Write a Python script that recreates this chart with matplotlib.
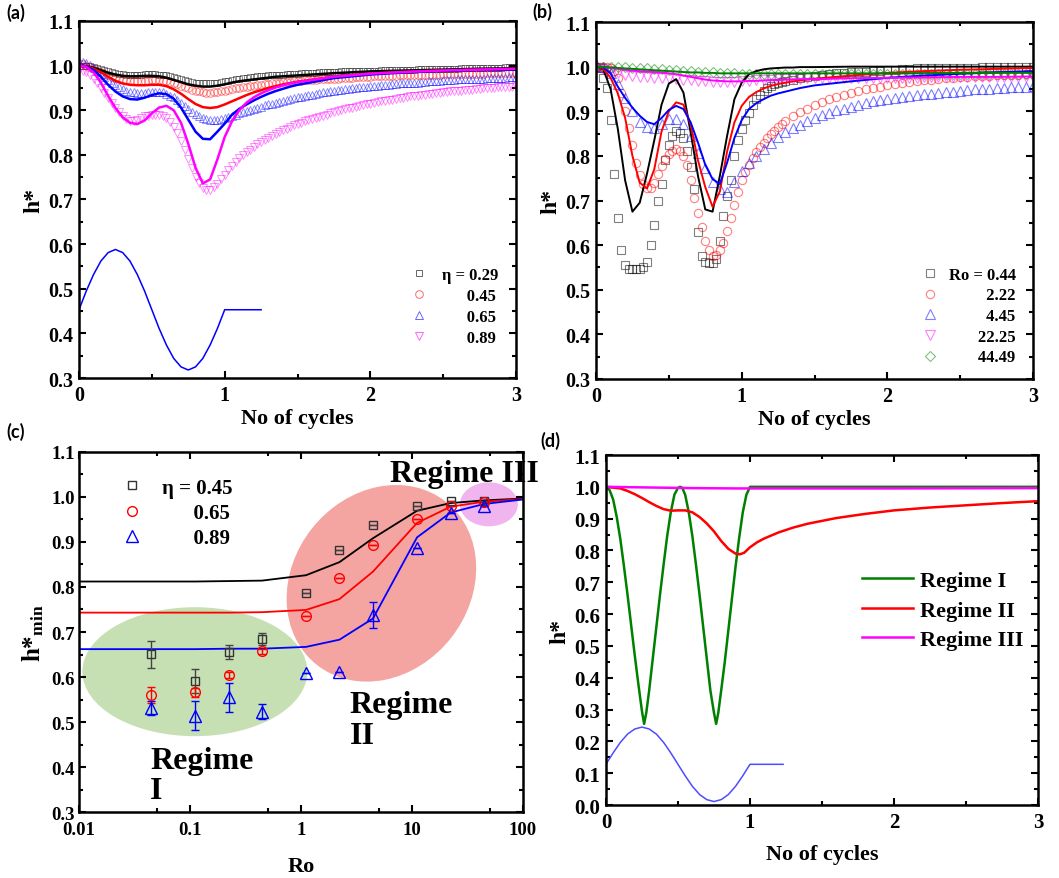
import numpy as np
import matplotlib
matplotlib.use('Agg')
import matplotlib.pyplot as plt
from matplotlib.patches import Ellipse
from matplotlib.transforms import ScaledTranslation
from matplotlib.ticker import MultipleLocator, FixedLocator, NullFormatter

plt.rcParams['font.family'] = ['Liberation Serif', 'DejaVu Serif']
plt.rcParams['font.weight'] = 'bold'
plt.rcParams['axes.labelweight'] = 'bold'
plt.rcParams['mathtext.fontset'] = 'custom'
plt.rcParams['mathtext.rm'] = 'Liberation Serif:bold'
plt.rcParams['mathtext.bf'] = 'Liberation Serif:bold'
plt.rcParams['mathtext.it'] = 'Liberation Serif:bold:italic'

# ---------------- (a) effect of eta ----------------
xa_pts = np.round(np.arange(0, 3.001, 0.025), 3)
xa_line = np.r_[np.round(np.arange(0, 1.501, 0.05), 3), 1.75, 2.0, 2.25, 2.5, 2.75, 3.0]

a_sq = [1.0, 1.0, 1.0, .999, .997, .995, .993, .99, .988, .986,
        .984, .982, .981, .98, .98, .98, .98, .98, .981, .981,
        .981, .981, .98, .979, .978, .976, .974, .972, .97, .968,
        .966, .964, .962, .961, .96, .96, .96, .961, .962, .963,
        .965, .966, .968, .97, .971, .972, .973, .974, .975, .976,
        .977, .977, .978, .979, .979, .98, .98, .981, .981, .982,
        .982, .983, .983, .984, .984, .984, .985, .985, .985, .986,
        .986, .986, .987, .987, .987, .988, .988, .988, .988, .989,
        .989, .989, .989, .99, .99, .99, .99, .991, .991, .991,
        .991, .991, .991, .992, .992, .992, .992, .992, .992, .993,
        .993, .993, .993, .993, .993, .994, .994, .994, .994, .994,
        .994, .995, .995, .995, .995, .995, .995, .996, .996, .996,
        .996]
a_ci = [1.005, 1.003, 1.0, .997, .993, .989, .985, .981, .978, .975,
        .972, .97, .968, .967, .966, .965, .965, .965, .966, .966,
        .967, .967, .967, .966, .965, .963, .961, .958, .955, .952,
        .949, .946, .944, .942, .94, .939, .939, .94, .941, .942,
        .944, .945, .947, .949, .95, .952, .953, .954, .955, .956,
        .957, .958, .959, .96, .961, .962, .963, .963, .964, .965,
        .966, .966, .967, .967, .968, .968, .969, .969, .97, .97,
        .971, .971, .972, .972, .973, .973, .974, .974, .975, .975,
        .975, .976, .976, .976, .977, .977, .977, .977, .978, .978,
        .978, .978, .979, .979, .979, .979, .98, .98, .98, .98,
        .981, .981, .981, .981, .981, .981, .982, .982, .982, .982,
        .982, .982, .983, .983, .983, .983, .983, .983, .984, .984,
        .984]
a_tu = [1.007, 1.007, 1.005, 1.001, .995, .989, .982, .975, .968, .962,
        .956, .951, .947, .944, .941, .94, .939, .939, .939, .94,
        .941, .941, .941, .94, .937, .933, .929, .923, .917, .91,
        .903, .897, .891, .887, .883, .881, .879, .879, .879, .88,
        .882, .885, .887, .89, .893, .896, .898, .901, .903, .906,
        .908, .911, .913, .915, .917, .919, .921, .923, .925, .927,
        .929, .93, .932, .934, .935, .937, .938, .94, .941, .942,
        .943, .945, .946, .947, .948, .949, .95, .951, .952, .953,
        .954, .954, .955, .956, .957, .957, .958, .959, .96, .96,
        .961, .961, .962, .962, .963, .964, .965, .965, .966, .966,
        .967, .967, .968, .968, .969, .969, .97, .97, .97, .97,
        .971, .971, .972, .972, .973, .973, .973, .973, .974, .974,
        .975]
a_td = [.99, .988, .985, .978, .97, .96, .95, .939, .928, .916,
        .905, .895, .887, .881, .877, .876, .878, .882, .886, .888,
        .89, .89, .889, .886, .882, .874, .862, .848, .832, .812,
        .79, .77, .75, .736, .726, .722, .722, .727, .735, .745,
        .755, .765, .775, .784, .792, .799, .806, .812, .818, .824,
        .829, .834, .838, .843, .847, .851, .855, .859, .862, .866,
        .869, .872, .875, .878, .88, .883, .885, .888, .89, .893,
        .895, .898, .9, .902, .904, .906, .908, .91, .912, .914,
        .915, .917, .918, .92, .921, .923, .924, .926, .927, .928,
        .929, .931, .932, .933, .934, .935, .936, .937, .938, .939,
        .94, .941, .942, .943, .943, .944, .945, .946, .946, .947,
        .948, .949, .949, .95, .95, .951, .952, .952, .953, .953,
        .954]

a_l029 = [1.0, .999, .995, .99, .984, .98, .977, .976, .976, .977,
          .977, .976, .973, .968, .963, .958, .955, .953, .953, .955,
          .958, .962, .965, .967, .969, .971, .973, .975, .976, .977,
          .978, .983, .987, .989, .991, .993, .994]
a_l045 = [1.0, .999, .993, .985, .975, .966, .96, .957, .956, .956,
          .957, .957, .954, .947, .937, .925, .914, .907, .905, .907,
          .913, .92, .927, .934, .94, .945, .95, .954, .958, .961,
          .964, .975, .982, .986, .989, .991, .992]
a_l065 = [1.0, .998, .99, .975, .957, .942, .931, .925, .924, .928,
          .934, .938, .936, .926, .906, .879, .852, .836, .835, .852,
          .87, .89, .903, .913, .922, .93, .937, .943, .948, .953,
          .957, .972, .98, .985, .988, .99, .991]
a_l089 = [1.0, .997, .985, .962, .932, .905, .884, .872, .869, .877,
          .893, .906, .91, .9, .872, .825, .771, .736, .745, .79,
          .84, .875, .9, .917, .929, .938, .945, .951, .956, .96,
          .963, .975, .982, .986, .989, .991, .993]

wave_x = [0, .05, .1, .15, .2, .25, .3, .35, .4, .45, .5,
          .55, .6, .65, .7, .75, .8, .85, .9, .95, 1.0, 1.25]
a_wave = [.453, .495, .532, .562, .581, .588, .581, .562, .532, .495, .453,
          .411, .374, .344, .325, .318, .325, .344, .374, .411, .453, .453]

# ---------------- (b) effect of Ro ----------------
xb_fine = np.r_[np.round(np.arange(0, 1.3001, 0.025), 3), np.round(np.arange(1.35, 3.001, 0.05), 3)]
xb_pts = np.round(np.arange(0, 3.001, 0.05), 3)
xb_line = xa_line

b_sq = [1.0, .997, .975, .952, .88, .76, .66, .59, .555, .546,
        .546, .546, .546, .55, .562, .60, .645, .70, .736, .79,
        .825, .845, .856, .852, .84, .81, .775, .725, .63, .575,
        .562, .561, .561, .57, .61, .665, .71, .745, .80, .835,
        .86, .88, .897, .915, .927, .937, .945, .952, .957, .961,
        .964, .966, .968,
        .971, .974, .977, .979, .981, .983, .985, .986, .987, .988,
        .989, .99, .991, .992, .993, .994, .995, .996, .996, .997,
        .997, .997, .998, .998, .998, .998, .999, .999, .999, .999,
        .999, 1.0, 1.0, 1.0]
b_ci = [1.0, 1.0, 1.0, 1.0, .998, .99, .975, .94, .9, .862,
        .825, .785, .757, .738, .727, .728, .74, .76, .777, .792,
        .805, .812, .815, .812, .80, .78, .745, .705, .673, .64,
        .61, .588, .576, .578, .588, .605, .632, .66, .69, .72,
        .745, .765, .78, .795, .808, .82, .83, .84, .848, .856,
        .864, .871, .878,
        .889, .898, .906, .914, .921, .927, .932, .937, .941, .945,
        .949, .952, .955, .958, .961, .963, .966, .968, .97, .971,
        .973, .974, .975, .976, .977, .978, .979, .98, .981, .981,
        .982, .982, .983, .983]
b_tu = [1.005, 1.0, .985, .962, .93, .9, .877, .865, .862, .872,
        .882, .882, .872, .845, .806, .772, .742, .725, .72, .742,
        .767, .785, .8, .815, .829, .842, .853, .862, .87, .878,
        .885, .891, .897, .902, .906, .91, .914, .918, .922, .925,
        .928, .93, .932, .934, .936, .938, .939, .941, .943, .944,
        .946, .947, .949, .95, .951, .952, .953, .954, .955, .955,
        .956]
b_td = [.995, .994, .99, .986, .982, .979, .977, .976, .975, .975,
        .974, .973, .971, .969, .968, .967, .966, .966, .966, .966,
        .967, .968, .969, .97, .971, .972, .972, .973, .973, .974,
        .974, .975, .975, .975, .975, .975, .975, .975, .975, .975,
        .975, .975, .975, .975, .975, .976, .976, .976, .976, .976,
        .976, .976, .976, .976, .976, .977, .977, .977, .977, .977,
        .977]
b_di = [1.0, 1.0, 1.0, 1.0, .999, .998, .997, .996, .995, .994,
        .993, .992, .991, .99, .989, .988, .987, .986, .985, .985,
        .984, .984, .984, .984, .984, .984, .984, .984, .984, .984,
        .984, .984, .984, .984, .984, .984, .984, .984, .984, .984,
        .984, .984, .984, .984, .984, .984, .984, .984, .984, .984,
        .984, .984, .984, .984, .984, .984, .984, .984, .984, .984,
        .984]

b_l044 = [1.0, .994, .95, .86, .745, .675, .695, .76, .835, .915,
          .962, .972, .942, .852, .755, .68, .675, .755, .845, .927,
          .964, .983, .99, .994, .996, .997, .998, .998, .999, .999,
          .999, 1.0, 1.0, 1.0, 1.0, 1.0, 1.0]
b_l222 = [1.0, .995, .975, .94, .885, .80, .74, .727, .77, .855,
          .9, .92, .915, .87, .79, .73, .686, .72, .81, .875,
          .912, .932, .943, .951, .957, .961, .964, .967, .969, .971,
          .973, .98, .986, .99, .993, .995, .997]
b_l445 = [1.0, .998, .985, .955, .93, .908, .89, .876, .871, .885,
          .903, .912, .905, .875, .83, .78, .748, .737, .785, .84,
          .88, .905, .918, .927, .935, .94, .944, .948, .952, .955,
          .958, .967, .975, .98, .984, .987, .99]
b_l2225 = [1.0, .999, .997, .995, .993, .991, .99, .989, .988, .987,
           .985, .983, .98, .977, .974, .971, .969, .968, .967, .967,
           .967, .968, .968, .969, .97, .97, .971, .971, .972, .972,
           .972, .974, .975, .976, .977, .977, .978]
b_l4449 = [1.0, .999, .998, .997, .996, .995, .994, .993, .992, .991,
           .99, .989, .988, .987, .987, .986, .986, .985, .985, .985,
           .985, .985, .985, .985, .985, .985, .985, .985, .985, .985,
           .985, .985, .985, .985, .986, .986, .986]

# ---------------- (c) minimum h* vs Ro ----------------
ro = [0.0445, 0.111, 0.2225, 0.445, 1.11, 2.22, 4.45, 11.1, 22.25, 44.49]
c_h045 = [.651, .592, .656, .684, .787, .883, .938, .979, .991, .991]
c_e045 = [.03, .027, .016, .013, 0, 0, 0, 0, 0, 0]
c_h065 = [.561, .566, .605, .657, .736, .82, .892, .951, .979, .988]
c_e065 = [.018, .01, .006, .006, 0, 0, 0, 0, 0, 0]
c_h089 = [.531, .514, .555, .523, .608, .612, .738, .886, .965, .98]
c_e089 = [.015, .032, .032, .017, 0, 0, .028, 0, 0, 0]
ro_line = [0.01, 0.0445, 0.111, 0.2225, 0.445, 1.11, 2.22, 4.45, 11.1, 22.25, 44.49, 100]
c_l045 = [.812, .812, .812, .813, .814, .826, .855, .908, .969, .986, .992, .996]
c_l065 = [.743, .743, .743, .743, .744, .749, .773, .834, .942, .978, .989, .995]
c_l089 = [.662, .662, .662, .663, .663, .667, .683, .730, .910, .965, .984, .994]

# ---------------- (d) regimes ----------------
d1_x = [0, .025, .05, .075, .1, .125, .15, .175, .2, .225, .25, .265, .28, .3, .325,
        .35, .375, .4, .425, .45, .475, .5, .515, .53, .55, .575, .6, .625, .65,
        .675, .7, .725, .75, .765, .78, .8, .825, .85, .875, .9, .925, .95, .975,
        1.0, 3.0]
d1_y = [1.0, .99, .96, .905, .835, .75, .66, .565, .47, .38, .295, .255, .29, .36, .46,
        .56, .66, .755, .845, .92, .975, .997, 1.0, .997, .975, .92, .845, .755, .66,
        .56, .46, .36, .29, .255, .29, .36, .45, .55, .65, .75, .84, .92, .975,
        1.0, 1.0]
d2_x = [0, .1, .15, .2, .25, .3, .35, .4, .45, .5, .55, .6, .65, .7, .75, .8, .85, .9,
        .93, .96, 1.0, 1.05, 1.1, 1.2, 1.3, 1.4, 1.6, 1.8, 2.0, 2.25, 2.5, 2.75, 3.0]
d2_y = [1.0, .995, .987, .977, .965, .952, .94, .93, .925, .926, .926, .92, .905, .885,
        .86, .83, .805, .79, .788, .793, .81, .826, .838, .857, .872, .884, .902, .915,
        .926, .935, .942, .949, .955]
d3_x = [0, .3, .6, .9, 1.2, 2.0, 3.0]
d3_y = [1.0, .998, .996, .995, .995, .995, .996]
d_wave_x = [0, .05, .1, .15, .2, .25, .3, .35, .4, .45, .5,
            .55, .6, .65, .7, .75, .8, .85, .9, .95, 1.0, 1.23]
d_wave = [.128, .164, .197, .223, .239, .245, .239, .223, .197, .164, .128,
          .092, .059, .033, .017, .011, .017, .033, .059, .092, .128, .128]


fig = plt.figure(figsize=(10.59, 8.79), dpi=100)
ax_a = fig.add_axes([0.0746, 0.5688, 0.4127, 0.4062])
ax_b = fig.add_axes([0.5628, 0.5677, 0.4127, 0.4061])
ax_c = fig.add_axes([0.0746, 0.0747, 0.4193, 0.4103])
ax_d = fig.add_axes([0.5722, 0.0830, 0.4080, 0.3982])


def style(ax, size, xpad=5, ypad=4):
    for s in ax.spines.values():
        s.set_linewidth(1.8)
    ax.tick_params(which='both', direction='in', top=True, right=True, width=1.5)
    ax.tick_params(which='major', length=5, labelsize=size)
    ax.tick_params(which='minor', length=3)
    ax.tick_params(axis='x', pad=xpad)
    ax.tick_params(axis='y', pad=ypad)


mk = dict(ls='none', mfc='none', mew=0.8, alpha=0.5)
mk_a = dict(ls='none', mfc='none', mew=0.7, alpha=0.45)

# (a)
ax = ax_a
ax.plot(xa_pts, a_sq, marker='s', ms=5, mec='k', label='η = 0.29', **mk_a)
ax.plot(xa_pts, a_ci, marker='o', ms=5.5, mec='red', label='      0.45', **mk_a)
ax.plot(xa_pts, a_tu, marker='^', ms=6, mec='blue', label='      0.65', **mk_a)
ax.plot(xa_pts, a_td, marker='v', ms=6, mec='magenta', label='      0.89', **mk_a)
ax.plot(xa_line, a_l029, color='k', lw=1.8)
ax.plot(xa_line, a_l045, color='red', lw=1.8)
ax.plot(xa_line, a_l065, color='blue', lw=1.8)
ax.plot(xa_line, a_l089, color='magenta', lw=1.8)
ax.plot(wave_x, a_wave, color='blue', lw=1.1)
ax.set_xlim(0, 3)
ax.set_ylim(0.3, 1.1)
ax.xaxis.set_major_locator(MultipleLocator(1))
ax.xaxis.set_minor_locator(MultipleLocator(0.5))
ax.yaxis.set_major_locator(MultipleLocator(0.1))
ax.yaxis.set_minor_locator(MultipleLocator(0.05))
ax.set_xlabel('No of cycles', fontsize=16, labelpad=2)
ax.set_ylabel('h*', fontsize=17, labelpad=3)
style(ax, 14.5)
leg = ax.legend(loc='center left', bbox_to_anchor=(0.759, 0.201), frameon=False, fontsize=12,
                handlelength=1.0, handletextpad=0.85, labelspacing=0.31, borderpad=0, borderaxespad=0)
for h in leg.legend_handles:
    h.set_alpha(0.6)

# (b)
ax = ax_b
ax.plot(xb_fine, b_sq, marker='s', ms=5.5, mec='k', label='Ro = 0.44', **mk)
ax.plot(xb_fine, b_ci, marker='o', ms=6, mec='red', label='         2.22', **mk)
ax.plot(xb_pts, b_tu, marker='^', ms=6.5, mec='blue', label='         4.45', **mk)
ax.plot(xb_pts, b_td, marker='v', ms=6.5, mec='magenta', label='       22.25', **mk)
ax.plot(xb_pts, b_di, marker='D', ms=5, mec='green', label='       44.49', **mk)
ax.plot(xb_line, b_l044, color='k', lw=1.4)
ax.plot(xb_line, b_l222, color='red', lw=1.4)
ax.plot(xb_line, b_l445, color='blue', lw=1.4)
ax.plot(xb_line, b_l2225, color='magenta', lw=1.4)
ax.plot(xb_line, b_l4449, color='green', lw=1.4)
ax.set_xlim(0, 3)
ax.set_ylim(0.3, 1.1)
ax.xaxis.set_major_locator(MultipleLocator(1))
ax.xaxis.set_minor_locator(MultipleLocator(0.5))
ax.yaxis.set_major_locator(MultipleLocator(0.1))
ax.yaxis.set_minor_locator(MultipleLocator(0.05))
ax.set_xlabel('No of cycles', fontsize=16, labelpad=2)
ax.set_ylabel('h*', fontsize=17, labelpad=3)
style(ax, 14.5)
ax.legend(loc='center left', bbox_to_anchor=(0.745, 0.176), frameon=False, fontsize=12,
          handlelength=1.0, handletextpad=0.64, labelspacing=0.28, borderpad=0, borderaxespad=0)

# (c)
ax = ax_c


def blob(ax, cx, cy, w, h, ang, color):
    tr = fig.dpi_scale_trans + ScaledTranslation(cx, cy, ax.transAxes)
    e = Ellipse((0, 0), w, h, angle=ang, facecolor=color, edgecolor='none', zorder=0.5)
    e.set_transform(tr)
    ax.add_artist(e)


blob(ax, 0.261, 0.390, 2.25, 1.29, 0, '#c6e0b4')
blob(ax, 0.681, 0.635, 2.08, 1.77, 51.6, '#f4a5a2')
blob(ax, 0.923, 0.854, 0.58, 0.44, 0, '#f0b4ee')

ax.plot(ro_line, c_l045, color='k', lw=1.3, zorder=2)
ax.plot(ro_line, c_l065, color='red', lw=1.3, zorder=2)
ax.plot(ro_line, c_l089, color='blue', lw=1.3, zorder=2)
ax.errorbar(ro, c_h045, yerr=c_e045, fmt='none', ecolor='#444444', elinewidth=1, capsize=3, zorder=3)
ax.errorbar(ro, c_h065, yerr=c_e065, fmt='none', ecolor='red', elinewidth=1, capsize=3, zorder=3)
ax.errorbar(ro, c_h089, yerr=c_e089, fmt='none', ecolor='blue', elinewidth=1, capsize=3, zorder=3)
mk_c = dict(ls='none', mfc='none', mew=1.0, zorder=4)
ax.plot(ro, c_h045, marker='s', ms=6, mec='#333333', label='η = 0.45', **mk_c)
ax.plot(ro, c_h065, marker='o', ms=7, mec='red', label='      0.65', **mk_c)
ax.plot(ro, c_h089, marker='^', ms=8, mec='blue', label='      0.89', **mk_c)
ax.set_xscale('log')
ax.set_xlim(0.01, 100)
ax.set_ylim(0.3, 1.1)
ax.xaxis.set_major_locator(FixedLocator([0.01, 0.1, 1, 10, 100]))
ax.xaxis.set_minor_locator(FixedLocator([0.05, 0.5, 5, 50]))
ax.xaxis.set_minor_formatter(NullFormatter())
ax.set_xticklabels(['0.01', '0.1', '1', '10', '100'])
ax.yaxis.set_major_locator(MultipleLocator(0.1))
ax.yaxis.set_minor_locator(MultipleLocator(0.05))
ax.set_xlabel('Ro', fontsize=16, labelpad=13)
ax.set_ylabel(r'h*$_{\mathrm{min}}$', fontsize=18, labelpad=4)
style(ax, 13.5, xpad=6, ypad=3)
ax.legend(loc='center left', bbox_to_anchor=(0.097, 0.83), frameon=False, fontsize=15,
          handlelength=1.0, handletextpad=0.9, labelspacing=0.25, borderpad=0, borderaxespad=0)
ax.text(0.70, 0.98, 'Regime III', transform=ax.transAxes, fontsize=23, va='top', ha='left',
        clip_on=False, zorder=6)
ax.text(0.61, 0.338, 'Regime\nII', transform=ax.transAxes, fontsize=23, va='top', ha='left',
        linespacing=1.05, zorder=6)
ax.text(0.16, 0.184, 'Regime\nI', transform=ax.transAxes, fontsize=23, va='top', ha='left',
        linespacing=1.05, zorder=6)

# (d)
ax = ax_d
ax.plot(d1_x, d1_y, color='green', lw=1.8, label='Regime I')
ax.plot(d2_x, d2_y, color='red', lw=1.8, label='Regime II')
ax.plot(d3_x, d3_y, color='magenta', lw=1.8, label='Regime III')
ax.plot(d_wave_x, d_wave, color='#4d4dff', lw=1.1)
ax.set_xlim(0, 3)
ax.set_ylim(0, 1.1)
ax.xaxis.set_major_locator(MultipleLocator(1))
ax.xaxis.set_minor_locator(MultipleLocator(0.5))
ax.yaxis.set_major_locator(MultipleLocator(0.1))
ax.yaxis.set_minor_locator(MultipleLocator(0.05))
ax.set_xlabel('No of cycles', fontsize=16, labelpad=9)
ax.set_ylabel('h*', fontsize=17, labelpad=3)
style(ax, 15)
ax.legend(loc='center left', bbox_to_anchor=(0.5926, 0.556), frameon=False, fontsize=16,
          handlelength=2.3, handletextpad=0.32, labelspacing=0.4, borderpad=0, borderaxespad=0)

for lab, xx, yy in [('(a)', 0.006, 0.996), ('(b)', 0.503, 0.997), ('(c)', 0.006, 0.519), ('(d)', 0.510, 0.509)]:
    fig.text(xx, yy, lab, fontsize=13, fontweight='bold', family=['Lato', 'DejaVu Sans'], va='top')

fig.savefig('out.png', dpi=100)
